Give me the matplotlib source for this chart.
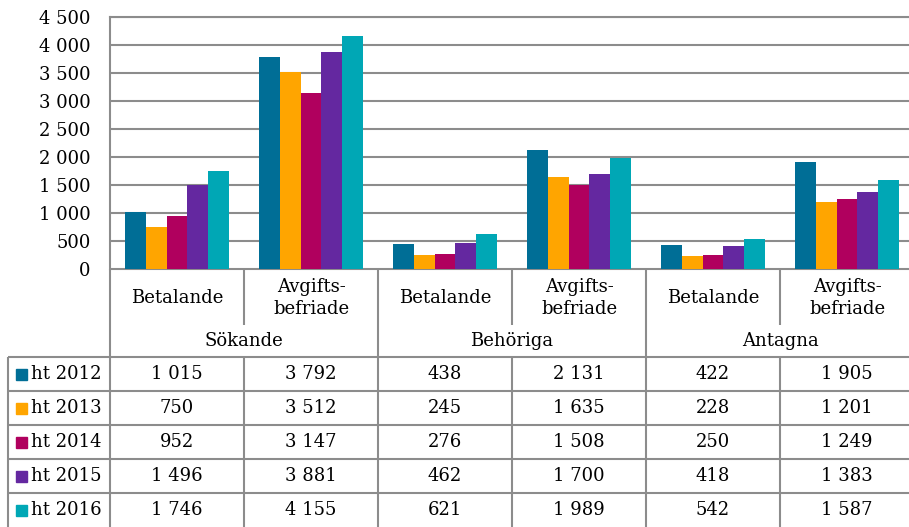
import matplotlib
matplotlib.use("Agg")
from matplotlib import pyplot as plt
from matplotlib.patches import Rectangle

years = ["ht 2012", "ht 2013", "ht 2014", "ht 2015", "ht 2016"]
groups = ["Sökande", "Behöriga", "Antagna"]
subcats = ["Betalande", "Avgifts-\nbefriade"]
colors = ["#006e96", "#ffa500", "#b0005e", "#6428a0", "#00a7b5"]

# one list per year: Sökande bet/avg, Behöriga bet/avg, Antagna bet/avg
ht2012 = [1015, 3792, 438, 2131, 422, 1905]
ht2013 = [750, 3512, 245, 1635, 228, 1201]
ht2014 = [952, 3147, 276, 1508, 250, 1249]
ht2015 = [1496, 3881, 462, 1700, 418, 1383]
ht2016 = [1746, 4155, 621, 1989, 542, 1587]
series = [ht2012, ht2013, ht2014, ht2015, ht2016]

yticks = [0, 500, 1000, 1500, 2000, 2500, 3000, 3500, 4000, 4500]

plt.rcParams['font.family'] = ['DejaVu Serif']
FS = 13
LC = "#8c8c8c"
LW = 1.5

def fmt(v):
    return f"{v:,}".replace(",", " ")

W, H = 909, 527
x0, colw = 110, 134
ncol = len(subcats) * len(groups)
xr = x0 + ncol * colw
top, base = 17, 269

fig = plt.figure(figsize=(W / 100, H / 100), dpi=100)
ax = fig.add_axes([x0 / W, (H - base) / H, (xr - x0) / W, (base - top) / H])

bw = 0.155
for i, vals in enumerate(series):
    xs = [c + (i - 2) * bw for c in range(ncol)]
    ax.bar(xs, vals, width=bw, color=colors[i], zorder=3)

ax.set_xlim(-0.5, ncol - 0.5)
ax.set_ylim(0, 4500)
ax.set_yticks(yticks)
ax.set_yticklabels([fmt(v) for v in yticks], fontsize=FS)
ax.tick_params(axis="y", length=0, pad=14)
ax.set_xticks([])
ax.grid(axis="y", color=LC, linewidth=LW, zorder=0)
for s in ["right", "bottom"]:
    ax.spines[s].set_visible(False)
ax.spines["left"].set_color(LC)
ax.spines["left"].set_linewidth(LW)
ax.spines["top"].set_color(LC)
ax.spines["top"].set_linewidth(LW)

# data table below the chart, in pixel coordinates
tax = fig.add_axes([0, 0, 1, (H - base) / H])
tax.set_xlim(0, W)
tax.set_ylim(H, base)
tax.axis("off")

sub_bot = 325
grp_bot = 357
rowh = (H - grp_bot) / len(years)
lkw = dict(color=LC, linewidth=LW, solid_capstyle="butt")

tax.plot([x0, xr], [base, base], **lkw)
tax.plot([x0, x0], [base, H], **lkw)
tax.plot([8, 8], [grp_bot, H], **lkw)
for r in range(len(years)):
    y = grp_bot + r * rowh
    tax.plot([8, xr], [y, y], **lkw)
for c in range(1, ncol + 1):
    xc = x0 + c * colw
    if c % 2 == 0:
        tax.plot([xc, xc], [base, H], **lkw)
    else:
        tax.plot([xc, xc], [base, sub_bot], **lkw)
        tax.plot([xc, xc], [grp_bot, H], **lkw)

for c in range(ncol):
    cx = x0 + (c + 0.5) * colw
    tax.text(cx, (base + sub_bot) / 2 + 1, subcats[c % 2], ha="center", va="center",
             fontsize=FS, linespacing=1.25)
for g, name in enumerate(groups):
    cx = x0 + (2 * g + 1) * colw
    tax.text(cx, (sub_bot + grp_bot) / 2, name, ha="center", va="center", fontsize=FS)

for r, vals in enumerate(series):
    cy = grp_bot + (r + 0.5) * rowh
    tax.add_patch(Rectangle((16, cy - 5), 11, 11, color=colors[r]))
    tax.text(31, cy, years[r], ha="left", va="center", fontsize=FS)
    for c, v in enumerate(vals):
        tax.text(x0 + (c + 0.5) * colw, cy, fmt(v), ha="center", va="center", fontsize=FS)

fig.savefig("out.png", dpi=100)
